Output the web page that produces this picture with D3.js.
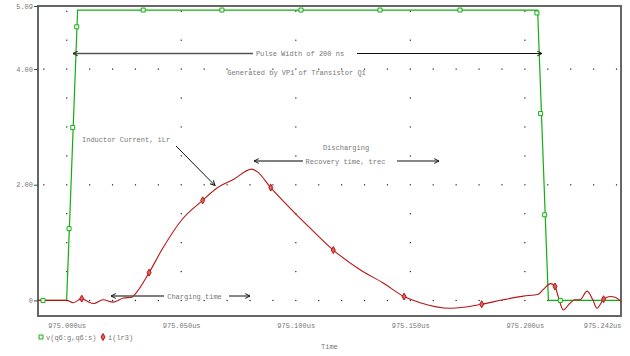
<!DOCTYPE html>
<html><head><meta charset="utf-8">
<script src="https://cdn.jsdelivr.net/npm/d3@7"></script>
<style>
html,body{margin:0;padding:0;background:#fff;}
text{font-family:"Liberation Mono","DejaVu Sans Mono",monospace;font-size:7px;fill:#777;}
</style></head>
<body><svg id="c" width="630" height="356"></svg>
<script>
// time in ns after 975.000us
const xDomain = [-12.5, 242];
const yDomain = [-0.27, 5.09];
const xTickValues = [0, 50, 100, 150, 200, 242];
const xTickLabels = ["975.000us","975.050us","975.100us","975.150us","975.200us","975.242us"];
const yTickValues = [0, 2, 4, 5.09];
const yTickLabels = ["0","2.00","4.00","5.09"];

const vT = [-12.5, 0, 4.8, 205.6, 210.3, 242];
const vV = [0, 0, 5.02, 5.02, 0, 0];
const vMarkT = [-10.3, 1.05, 2.66, 4.4, 33.4, 67.8, 102.3, 136.8, 171.7, 205.3, 206.9, 208.7, 215.5];
const vMarkV = [0, 1.24, 2.99, 4.73, 5.02, 5.02, 5.02, 5.02, 5.02, 4.97, 3.23, 1.48, 0];

const iT = [-12.5, 0.04, 2.9, 6.6, 9.2, 11.8, 15.8, 20.4, 24.8, 28.4, 29.9, 36.0, 41.5, 50.2, 59.4, 65.5, 72.8, 80.8, 83.0, 89.1, 100.4, 106.3, 116.4, 128.1, 138.2, 147.3, 154.3, 167.4, 173.2, 181.2, 190.6, 199.4, 205.9, 208.1, 211.3, 213.2, 214.6, 216.8, 219.7, 221.9, 224.1, 227.2, 229.7, 231.5, 234.4, 237.2, 239.4, 242];
const iV = [0, 0, -0.04, 0.03, -0.02, -0.055, 0.01, -0.03, 0.04, 0.055, 0.11, 0.48, 0.87, 1.39, 1.73, 1.94, 2.09, 2.27, 2.23, 1.95, 1.48, 1.25, 0.87, 0.53, 0.30, 0.066, -0.04, -0.135, -0.12, -0.066, 0.01, 0.073, 0.107, 0.19, 0.29, 0.24, 0.066, -0.165, -0.05, 0.01, 0.01, 0.16, 0.01, -0.135, 0.02, 0.066, 0.055, -0.02];
const iMarkT = [6.6, 36.0, 59.4, 89.1, 116.4, 147.3, 181.2, 213.2, 234.4];
const iMarkV = [0.03, 0.48, 1.73, 1.95, 0.87, 0.066, -0.066, 0.24, 0.02];

const legendLabels = ["v(q6:g,q6:s)", "i(lr3)"];
const GREEN = "#10b010", RED = "#b81414";

const svg = d3.select("#c");
const L = 38, R = 621, T = 6, B = 316;
const x = d3.scaleLinear().domain(xDomain).range([L, R]);
const y = d3.scaleLinear().domain(yDomain).range([B, T]);

// dotted grid
const g = svg.append("g").attr("fill", "#222");
const dots = [];
[0, 2, 4].forEach(v => { for (let t = -10; t <= 240; t += 10) dots.push([t, v]); });
[0, 50, 100, 150, 200].forEach(t => { for (let v = 0; v <= 5; v += 0.5) if (v % 2 !== 0) dots.push([t, v]); });
g.selectAll("rect").data(dots).join("rect")
  .attr("x", d => x(d[0]) - 0.5).attr("y", d => y(d[1]) - 0.5)
  .attr("width", 1.2).attr("height", 1.2);

// frame
svg.append("rect").attr("x", L).attr("y", T).attr("width", R - L).attr("height", B - T)
  .attr("fill", "none").attr("stroke", "#666").attr("stroke-width", 2);

// y axis
const yAx = svg.append("g").attr("transform", `translate(${L},0)`)
  .call(d3.axisLeft(y).tickValues(yTickValues).tickSize(4).tickPadding(1)
    .tickFormat((d, i) => yTickLabels[i]));
yAx.select(".domain").remove();
yAx.selectAll("line").attr("stroke", "#444");
yAx.selectAll("text").attr("fill", "#777").style("font-size", "7px").attr("font-family", null);

// x axis
const xAx = svg.append("g").attr("transform", `translate(0,${B})`)
  .call(d3.axisBottom(x).tickValues(xTickValues).tickSize(0).tickPadding(7)
    .tickFormat((d, i) => xTickLabels[i]));
xAx.select(".domain").remove();
xAx.selectAll("text").attr("fill", "#777").style("font-size", "7px").attr("font-family", null)
  .attr("text-anchor", (d, i) => i === xTickValues.length - 1 ? "end" : "middle");

// traces
const clip = svg.append("clipPath").attr("id", "pc").append("rect")
  .attr("x", L).attr("y", T).attr("width", R - L).attr("height", B - T);
const line = d3.line().x(d => x(d[0])).y(d => y(d[1]));
svg.append("path").datum(vT.map((t, i) => [t, vV[i]]))
  .attr("d", line).attr("fill", "none").attr("stroke", GREEN).attr("stroke-width", 1.2)
  .attr("clip-path", "url(#pc)");
svg.append("path").datum(iT.map((t, i) => [t, iV[i]]))
  .attr("d", line.curve(d3.curveMonotoneX)).attr("fill", "none").attr("stroke", RED).attr("stroke-width", 1.1)
  .attr("clip-path", "url(#pc)");

const sq = d3.symbol().type(d3.symbolSquare).size(16)();
const dm = d3.symbol().type(d3.symbolDiamond).size(14)();
svg.append("g").selectAll("path").data(vMarkT.map((t, i) => [t, vMarkV[i]])).join("path")
  .attr("d", sq).attr("transform", d => `translate(${x(d[0])},${y(d[1])})`)
  .attr("fill", "#fff").attr("stroke", GREEN).attr("stroke-width", 1);
svg.append("g").selectAll("path").data(iMarkT.map((t, i) => [t, iMarkV[i]])).join("path")
  .attr("d", dm).attr("transform", d => `translate(${x(d[0])},${y(d[1])})`)
  .attr("fill", "#e06060").attr("stroke", RED).attr("stroke-width", 1);

// legend
svg.append("path").attr("d", sq).attr("transform", "translate(41,337)")
  .attr("fill", "#fff").attr("stroke", GREEN);
svg.append("text").attr("x", 46).attr("y", 339.5).text(legendLabels[0]);
svg.append("path").attr("d", dm).attr("transform", "translate(103,337)")
  .attr("fill", "#e06060").attr("stroke", RED);
svg.append("text").attr("x", 108).attr("y", 339.5).text(legendLabels[1]);
svg.append("text").attr("x", 321).attr("y", 349).text("Time");

// annotations
const defs = svg.append("defs");
defs.append("marker").attr("id", "ah").attr("viewBox", "0 0 10 10").attr("refX", 9).attr("refY", 5)
  .attr("markerWidth", 6).attr("markerHeight", 6).attr("markerUnits", "userSpaceOnUse").attr("orient", "auto")
  .append("path").attr("d", "M1,1 L9,5 L1,9").attr("fill", "none").attr("stroke", "#111").attr("stroke-width", 1.6);
function arrow(x1, y1, x2, y2, col, w) {
  svg.append("line").attr("x1", x1).attr("y1", y1).attr("x2", x2).attr("y2", y2)
    .attr("stroke", col).attr("stroke-width", w).attr("marker-end", "url(#ah)");
}
function label(tx, ty, s, anchor) {
  svg.append("text").attr("x", tx).attr("y", ty).attr("text-anchor", anchor || "start").text(s);
}
arrow(253, 53.5, 73, 53.5, "#555", 1.6);
arrow(357, 53.5, 542, 53.5, "#111", 1);
label(300, 56, "Pulse Width of 200 ns", "middle");
label(296.5, 75, "Generated by VP1 of Transistor Q1", "middle");
label(82, 141.5, "Inductor Current, iLr");
arrow(176, 146, 215, 185.5, "#111", 1);
label(346, 150, "Discharging", "middle");
label(345.5, 163.5, "Recovery time, trec", "middle");
arrow(303, 161, 254, 161, "#555", 1.6);
arrow(397, 161, 439, 161, "#111", 1);
label(194.5, 299, "Charging time", "middle");
arrow(164, 296, 111, 296, "#555", 1.6);
arrow(229, 296, 250, 296, "#111", 1);
</script></body></html>
